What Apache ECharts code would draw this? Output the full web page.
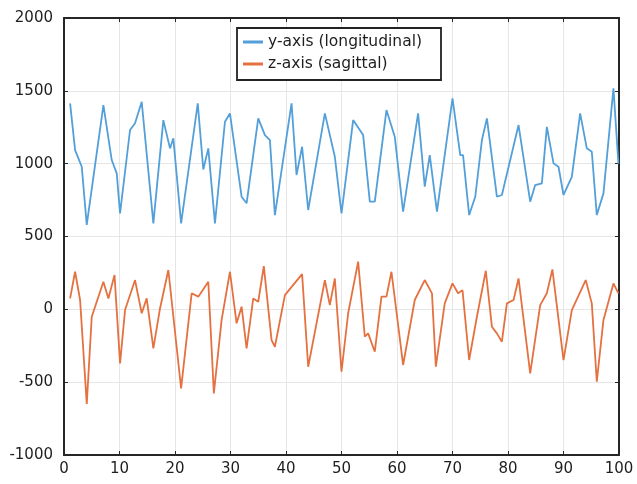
<!DOCTYPE html>
<html>
<head>
<meta charset="utf-8">
<script src="https://cdn.jsdelivr.net/npm/echarts@6/dist/echarts.min.js"></script>
<style>html,body{margin:0;padding:0;background:#fff;}#c{width:637px;height:484px;}</style>
</head>
<body>
<div id="c"></div>
<script>
var seriesNames = ['y-axis (longitudinal)', 'z-axis (sagittal)'];
var xTicks = [0, 10, 20, 30, 40, 50, 60, 70, 80, 90, 100];
var yTicks = [-1000, -500, 0, 500, 1000, 1500, 2000];

var blueX = [1.1, 2.0, 3.2, 4.1, 7.1, 8.6, 9.5, 10.1, 11.9, 12.8, 14.0, 16.1, 17.9, 19.1, 19.7, 21.1, 24.1, 25.1, 26.0, 27.2,
  29.0, 29.9, 32.0, 32.9, 35.0, 36.2, 37.1, 38.0, 41.0, 41.9, 42.9, 44.0, 47.0, 48.8, 50.0, 52.1, 53.9, 55.1, 56.0, 58.1,
  59.6, 61.1, 63.8, 65.0, 65.9, 67.2, 70.0, 71.4, 71.9, 73.0, 74.1, 75.3, 76.2, 78.0, 78.9, 81.9, 84.0, 84.9, 86.1, 87.0,
  88.2, 89.1, 90.0, 91.5, 93.0, 94.2, 95.1, 96.0, 97.2, 99.0, 99.9];
var blueY = [1414, 1093, 979, 580, 1402, 1025, 933, 659, 1231, 1277, 1425, 590, 1299, 1105, 1174, 590, 1414, 960, 1105, 590,
  1288, 1345, 773, 728, 1311, 1196, 1162, 647, 1414, 922, 1116, 682, 1345, 1047, 659, 1299, 1196, 739, 739, 1368,
  1185, 670, 1345, 842, 1059, 670, 1448, 1059, 1059, 647, 773, 1162, 1311, 773, 785, 1265, 739, 853, 865, 1253,
  1002, 979, 785, 910, 1345, 1105, 1082, 647, 796, 1517, 1000];

var orangeX = [1.1, 2.0, 2.9, 4.1, 5.0, 7.1, 8.0, 9.1, 10.1, 11.0, 12.8, 14.0, 14.9, 16.1, 17.3, 18.8, 21.1, 23.0, 24.2, 26.0,
  27.0, 28.4, 29.9, 31.1, 32.0, 32.9, 34.1, 35.0, 36.0, 37.4, 38.0, 39.8, 42.9, 44.0, 47.0, 47.9, 48.8, 50.0, 51.2, 53.0,
  54.2, 54.8, 56.0, 57.2, 58.1, 59.0, 61.1, 63.2, 65.0, 66.3, 67.0, 68.6, 70.0, 71.0, 71.8, 73.0, 74.4, 76.0, 77.1, 78.0,
  78.9, 79.8, 81.0, 81.9, 84.0, 85.8, 87.0, 88.0, 90.0, 91.5, 94.0, 95.1, 96.0, 97.2, 99.0, 99.9];
var orangeY = [75, 258, 64, -650, -51, 189, 75, 235, -371, -5, 201, -27, 75, -268, 6, 270, -542, 110, 87, 189,
  -577, -73, 258, -96, 18, -268, 75, 52, 297, -211, -257, 98, 242, -394, 201, 29, 212, -428, -27, 327,
  -188, -165, -291, 87, 87, 258, -382, 64, 201, 110, -394, 41, 178, 110, 132, -348, -51, 265, -119, -165,
  -222, 41, 64, 212, -439, 29, 110, 274, -348, -5, 201, 41, -497, -73, 178, 110];

function zip(xs, ys) { return xs.map(function (x, i) { return [x, ys[i]]; }); }

var axisColor = '#262626';
var labelStyle = { color: '#1e1e1e', fontFamily: 'DejaVu Sans', fontSize: 15 };
var chart = echarts.init(document.getElementById('c'));
chart.setOption({
  animation: false,
  backgroundColor: '#fff',
  grid: { left: 64, right: 18, top: 18, bottom: 29 },
  legend: {
    left: 237, top: 28, orient: 'vertical',
    data: seriesNames,
    icon: 'rect', itemWidth: 20, itemHeight: 3, itemGap: 4,
    padding: [5, 19, 7, 6],
    borderColor: '#222', borderWidth: 1.8, backgroundColor: '#fff',
    textStyle: { fontFamily: 'DejaVu Sans', fontSize: 15.5, color: '#1e1e1e', lineHeight: 18 }
  },
  xAxis: [{
    type: 'value', min: xTicks[0], max: xTicks[xTicks.length - 1], interval: 10,
    axisLine: { show: true, onZero: false, lineStyle: { color: axisColor, width: 2 } },
    axisTick: { show: true, inside: true, length: 4, lineStyle: { color: axisColor } },
    axisLabel: Object.assign({ margin: 7, formatter: function (v) { return String(v); } }, labelStyle),
    splitLine: { show: true, lineStyle: { color: '#e6e6e6', width: 1 } }
  }, {
    type: 'value', position: 'top', min: xTicks[0], max: xTicks[xTicks.length - 1], interval: 10,
    axisLine: { show: true, onZero: false, lineStyle: { color: axisColor, width: 2 } },
    axisTick: { show: true, inside: true, length: 4, lineStyle: { color: axisColor } },
    axisLabel: { show: false }, splitLine: { show: false }
  }],
  yAxis: [{
    type: 'value', min: yTicks[0], max: yTicks[yTicks.length - 1], interval: 500,
    axisLine: { show: true, onZero: false, lineStyle: { color: axisColor, width: 2 } },
    axisTick: { show: true, inside: true, length: 4, lineStyle: { color: axisColor } },
    axisLabel: Object.assign({ margin: 11, formatter: function (v) { return String(v); } }, labelStyle),
    splitLine: { show: true, lineStyle: { color: '#e6e6e6', width: 1 } }
  }, {
    type: 'value', position: 'right', min: yTicks[0], max: yTicks[yTicks.length - 1], interval: 500,
    axisLine: { show: true, onZero: false, lineStyle: { color: axisColor, width: 2 } },
    axisTick: { show: true, inside: true, length: 4, lineStyle: { color: axisColor } },
    axisLabel: { show: false }, splitLine: { show: false }
  }],
  series: [{
    name: seriesNames[0], type: 'line', symbol: 'none',
    data: zip(blueX, blueY),
    itemStyle: { color: '#529fd9' },
    lineStyle: { color: '#529fd9', width: 1.8 }
  }, {
    name: seriesNames[1], type: 'line', symbol: 'none',
    data: zip(orangeX, orangeY),
    itemStyle: { color: '#e4713f' },
    lineStyle: { color: '#e4713f', width: 1.8 }
  }]
});
</script>
</body>
</html>
